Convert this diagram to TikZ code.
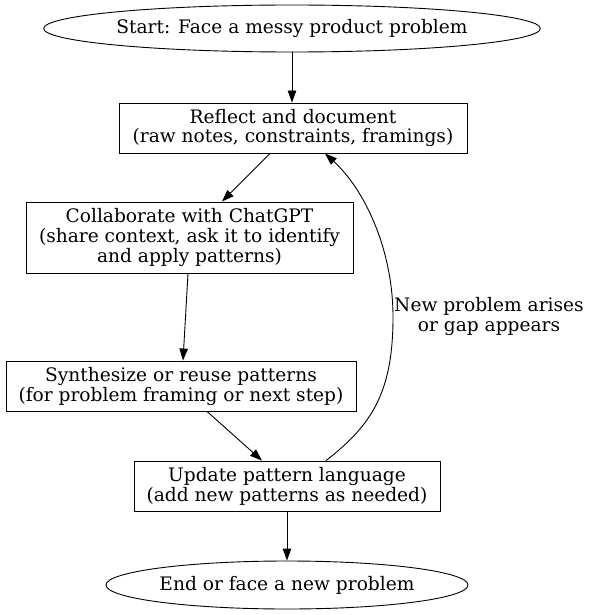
\documentclass[tikz,border=0pt]{standalone}
\usepackage{fontspec}
\setmainfont{DejaVu Serif}
\usetikzlibrary{arrows.meta,shapes.geometric,calc}
\tikzset{
  txt/.style={font=\fontsize{18.6}{20}\selectfont, align=center},
  base/.style={draw=black, line width=0.9pt, txt, inner sep=0pt},
  procbox/.style={base, rectangle},
  term/.style={base, ellipse},
  flow/.style={line width=0.9pt, -{Triangle[length=12pt,width=8.5pt]}},
}
\begin{document}
\begin{tikzpicture}[x=1pt,y=-1pt]
\useasboundingbox (0,0) rectangle (591,615);
\node[term, minimum width=490pt, minimum height=47pt] (start) at (292,28.5) {Start: Face a messy product problem};
\node[procbox, minimum width=348pt, minimum height=50pt] (ref) at (293,128) {Reflect and document\\(raw notes, constraints, framings)};
\node[procbox, minimum width=327pt, minimum height=71pt] (col) at (189.5,237.5) {Collaborate with ChatGPT\\(share context, ask it to identify\\and apply patterns)};
\node[procbox, minimum width=350pt, minimum height=50pt] (syn) at (181,386) {Synthesize or reuse patterns\\(for problem framing or next step)};
\node[procbox, minimum width=306pt, minimum height=50pt] (upd) at (287,486) {Update pattern language\\(add new patterns as needed)};
\node[term, minimum width=362pt, minimum height=48pt] (end) at (287,585) {End or face a new problem};
\draw[flow] (start.south) -- (ref.north -| start.south);
\draw[flow] ($(ref.south)+(-23,0)$) -- ($(col.north)+(32.5,0)$);
\draw[flow] ($(col.south)+(-1.5,0)$) -- ($(syn.north)+(2,0)$);
\draw[flow] ($(syn.south)+(26,0)$) -- ($(upd.north)+(-25,0)$);
\draw[flow] (upd.south) -- (end.north);
\coordinate (loopA) at ($(upd.north)+(39,0)$);
\coordinate (loopB) at ($(ref.south)+(32,0)$);
\draw[flow] (loopA) .. controls (372,425) and (393,392) .. (393,317)
  .. controls (393,250) and (365,190) .. (loopB);
\node[txt, inner sep=0pt] (lbl) at (489,316) {New problem arises\\or gap appears};
\end{tikzpicture}
\end{document}
